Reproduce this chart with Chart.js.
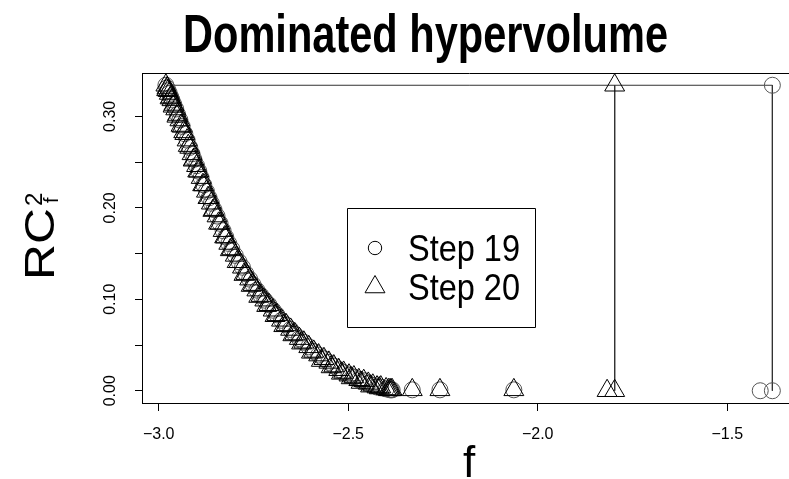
<!DOCTYPE html>
<html><head><meta charset="utf-8">
<script src="https://cdn.jsdelivr.net/npm/chart.js@4/dist/chart.umd.min.js"></script>
<style>
html,body{margin:0;padding:0;background:#fff;overflow:hidden;width:789px;height:479px}
#wrap{position:absolute;left:0;top:0;width:820px;height:479px}
</style>
</head><body><div id="wrap"><canvas id="c" width="820" height="479"></canvas></div>
<script>
// ---- data ----
const chartTitle = 'Dominated hypervolume';
const seriesNames = ['Step 19', 'Step 20'];
const xAxisTitle = 'f';
// Pareto-front points shared by both steps (f, RC_f^2)
const curveF = [-2.981,-2.978,-2.975,-2.972,-2.968,-2.965,-2.960,-2.955,-2.950,-2.944,
  -2.938,-2.931,-2.925,-2.918,-2.912,-2.907,-2.900,-2.894,-2.888,-2.881,
  -2.874,-2.867,-2.861,-2.854,-2.846,-2.838,-2.830,-2.823,-2.815,-2.807,
  -2.798,-2.788,-2.779,-2.770,-2.760,-2.751,-2.741,-2.730,-2.720,-2.709,
  -2.698,-2.688,-2.676,-2.664,-2.652,-2.641,-2.629,-2.617,-2.604,-2.591,
  -2.578,-2.564,-2.551,-2.538,-2.525,-2.512,-2.498,-2.485,-2.472,-2.459,
  -2.447,-2.435,-2.424,-2.414,-2.400,-2.390,-2.387,-2.384,-2.331,-2.258,-2.063];
const curveRC = [0.334,0.331,0.328,0.325,0.321,0.318,0.313,0.308,0.302,0.296,
  0.289,0.281,0.274,0.266,0.259,0.253,0.246,0.240,0.233,0.225,
  0.218,0.211,0.205,0.198,0.191,0.183,0.175,0.168,0.161,0.155,
  0.148,0.141,0.135,0.128,0.122,0.116,0.110,0.104,0.099,0.094,
  0.088,0.083,0.077,0.072,0.067,0.062,0.057,0.053,0.048,0.043,
  0.039,0.035,0.031,0.027,0.023,0.020,0.017,0.015,0.012,0.011,
  0.008,0.006,0.004,0.004,0.002,0.001,0.001,0.001,0.001,0.001,0.001];
// further Step 20 front points (the front is densely populated)
const step20MoreF = [-2.979,-2.970,-2.962,-2.952,-2.941,-2.934,-2.922,-2.909,-2.897,-2.884,
  -2.870,-2.857,-2.842,-2.826,-2.811,-2.793,-2.775,-2.756,-2.736,-2.715,
  -2.693,-2.670,-2.646,-2.623,-2.597,-2.571,-2.545,-2.518,-2.492,-2.466,
  -2.441,-2.418,-2.394];
const step20MoreRC = [0.329,0.320,0.311,0.300,0.290,0.283,0.268,0.252,0.240,0.225,
  0.211,0.197,0.183,0.168,0.154,0.141,0.127,0.115,0.103,0.093,
  0.082,0.071,0.061,0.052,0.042,0.033,0.026,0.019,0.014,0.009,
  0.005,0.003,0.001];
const step19ExtraF = [-1.413, -1.381, -1.381];
const step19ExtraRC = [0.000, 0.000, 0.334];
const step20ExtraF = [-1.817, -1.797, -1.797];
const step20ExtraRC = [0.000, 0.000, 0.334];
// hypervolume boundary lines
const step19LineF = [-2.981, -1.381, -1.381];
const step19LineRC = [0.334, 0.334, 0.000];
const step20LineF = [-1.797, -1.797];
const step20LineRC = [0.334, 0.000];
// axes
const xRange = [-3.044, -1.316];
const yRange = [-0.0134, 0.3474];
const xTicks = [-3.0, -2.5, -2.0, -1.5];
const xTickLabels = ['\u22123.0', '\u22122.5', '\u22122.0', '\u22121.5'];
const yTicks = [0, 0.05, 0.10, 0.15, 0.20, 0.25, 0.30];
const yTickLabels = ['0.00', '', '0.10', '', '0.20', '', '0.30'];

// ---- chart ----
const FONT = '"Liberation Sans", Arial, Helvetica, sans-serif';
const pts = (xs, ys) => xs.map((x, i) => ({x: x, y: ys[i]}));

function drawTri(ctx, x, y, r) {
  ctx.beginPath();
  ctx.moveTo(x, y - r);
  ctx.lineTo(x + r * Math.sqrt(3) / 2, y + r / 2);
  ctx.lineTo(x - r * Math.sqrt(3) / 2, y + r / 2);
  ctx.closePath();
  ctx.stroke();
}
function scaledText(ctx, text, x, y, font, targetW, align) {
  ctx.save();
  ctx.font = font;
  const w = ctx.measureText(text).width;
  const sx = targetW / w;
  ctx.translate(x, y);
  ctx.scale(sx, 1);
  ctx.textAlign = align;
  ctx.textBaseline = 'alphabetic';
  ctx.fillText(text, 0, 0);
  ctx.restore();
  return targetW;
}

const decor = {
  id: 'decor',
  afterDraw(chart) {
    const ctx = chart.ctx, a = chart.chartArea;
    ctx.save();
    ctx.strokeStyle = '#000';
    ctx.fillStyle = '#000';
    ctx.lineWidth = 1;
    // top and right of the box
    ctx.beginPath();
    ctx.moveTo(a.left, Math.round(a.top) + 0.5);
    ctx.lineTo(a.right, Math.round(a.top) + 0.5);
    ctx.lineTo(a.right, a.bottom);
    ctx.stroke();
    // title
    scaledText(ctx, chartTitle, 425.5, 52, 'bold 54px ' + FONT, 485, 'center');
    // x axis title
    ctx.font = '44px ' + FONT;
    ctx.textAlign = 'center';
    ctx.textBaseline = 'alphabetic';
    ctx.fillText(xAxisTitle, 469, 477);
    // y axis title RC_f^2 (rotated)
    ctx.save();
    ctx.translate(54, 244);
    ctx.rotate(-Math.PI / 2);
    scaledText(ctx, 'RC', 0, 0, '42px ' + FONT, 72, 'center');
    ctx.textAlign = 'left';
    ctx.textBaseline = 'alphabetic';
    ctx.font = '24px ' + FONT;
    ctx.fillText('2', 38, -12);
    ctx.font = '20px ' + FONT;
    ctx.fillText('f', 41, 4);
    ctx.restore();
    // legend
    ctx.beginPath();
    ctx.rect(347.5, 208.5, 188, 119);
    ctx.stroke();
    ctx.beginPath();
    ctx.arc(375, 248, 6.7, 0, Math.PI * 2);
    ctx.stroke();
    drawTri(ctx, 375, 287, 11.5);
    scaledText(ctx, seriesNames[0], 408, 261, '36px ' + FONT, 112, 'left');
    scaledText(ctx, seriesNames[1], 408, 300, '36px ' + FONT, 112, 'left');
    ctx.restore();
  }
};

new Chart(document.getElementById('c'), {
  type: 'scatter',
  data: {
    datasets: [
      {label: seriesNames[1],
       data: pts(curveF.concat(step20MoreF, step20ExtraF), curveRC.concat(step20MoreRC, step20ExtraRC)),
       pointStyle: 'triangle', pointRadius: 11.5, pointBorderWidth: 1,
       borderColor: '#000', backgroundColor: 'rgba(0,0,0,0)', order: 1},
      {label: seriesNames[0], data: pts(curveF.concat(step19ExtraF), curveRC.concat(step19ExtraRC)),
       pointStyle: 'circle', pointRadius: 8, pointBorderWidth: 1,
       borderColor: '#555', backgroundColor: 'rgba(0,0,0,0)', order: 2},
      {label: 'line19', data: pts(step19LineF, step19LineRC), showLine: true, pointRadius: 0,
       borderColor: '#333', borderWidth: 1, fill: false, order: 3},
      {label: 'line20', data: pts(step20LineF, step20LineRC), showLine: true, pointRadius: 0,
       borderColor: '#333', borderWidth: 1, fill: false, order: 3}
    ]
  },
  options: {
    responsive: false,
    animation: false,
    devicePixelRatio: 1,
    layout: {padding: {top: 73, right: 23, left: 0, bottom: 0}},
    plugins: {legend: {display: false}, tooltip: {enabled: false}, title: {display: false}},
    scales: {
      x: {
        type: 'linear', min: xRange[0], max: xRange[1],
        afterBuildTicks: s => { s.ticks = xTicks.map(v => ({value: v})); },
        afterFit: s => { s.height = 76; },
        ticks: {callback: (v, i) => xTickLabels[i], color: '#000', autoSkip: false,
                maxRotation: 0, minRotation: 0, padding: 14, font: {family: FONT, size: 16}},
        grid: {display: true, drawOnChartArea: false, drawTicks: true, tickLength: 8, color: '#000', tickColor: '#000'},
        border: {display: true, color: '#000', width: 1}
      },
      y: {
        type: 'linear', min: yRange[0], max: yRange[1],
        afterBuildTicks: s => { s.ticks = yTicks.map(v => ({value: v})); },
        afterFit: s => { s.width = 142; },
        ticks: {callback: (v, i) => yTickLabels[i], color: '#000', autoSkip: false,
                minRotation: 90, maxRotation: 90, crossAlign: 'center', padding: 9,
                font: {family: FONT, size: 16}},
        grid: {display: true, drawOnChartArea: false, drawTicks: true, tickLength: 7, color: '#000', tickColor: '#000'},
        border: {display: true, color: '#000', width: 1}
      }
    }
  },
  plugins: [decor]
});
</script>
</body></html>
